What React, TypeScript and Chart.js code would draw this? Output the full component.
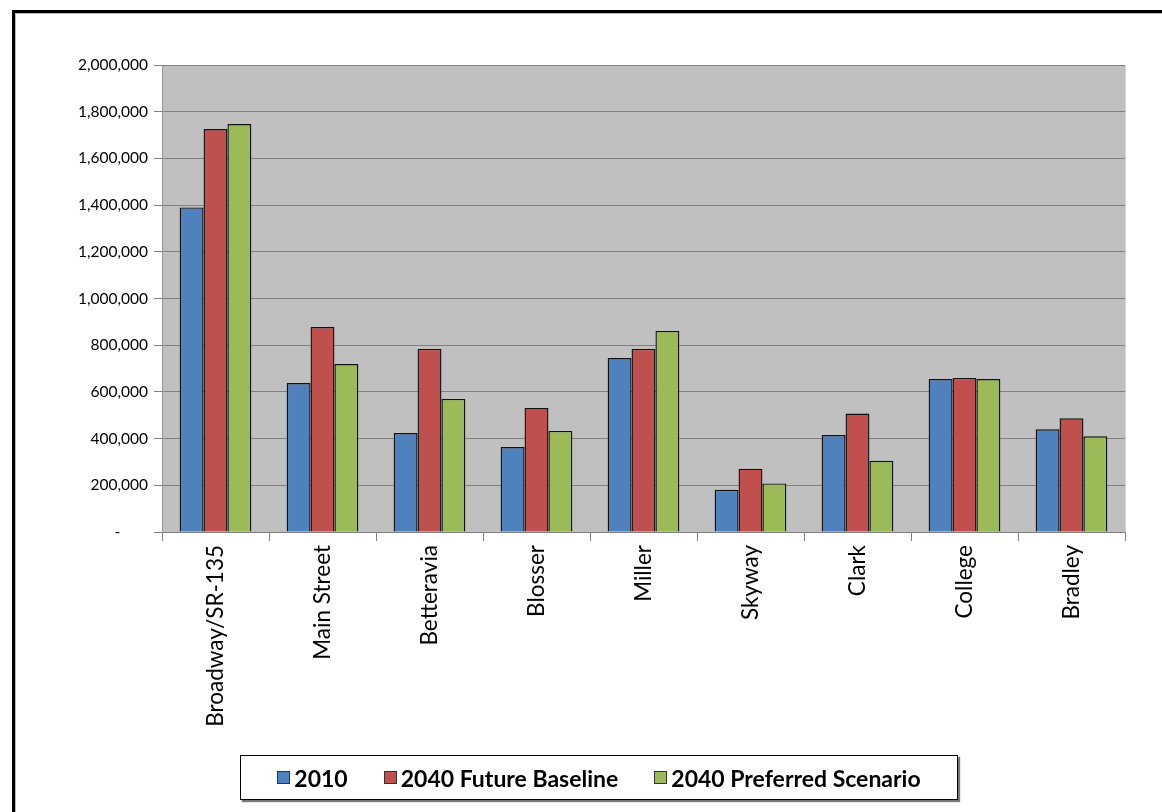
import React, { useEffect, useRef } from "react";
import { Chart, registerables } from "chart.js";

Chart.register(...registerables);

const categories = ["Broadway/SR-135", "Main Street", "Betteravia", "Blosser", "Miller", "Skyway", "Clark", "College", "Bradley"];
const series2010 = [1390000, 638000, 424000, 364000, 745000, 181000, 415000, 655000, 440000];
const series2040Baseline = [1726000, 878000, 784000, 531000, 784000, 271000, 507000, 660000, 487000];
const series2040Preferred = [1747000, 719000, 570000, 433000, 861000, 208000, 305000, 655000, 410000];
const seriesNames = ["2010", "2040 Future Baseline", "2040 Preferred Scenario"];
const seriesColors = ["#4F81BD", "#C0504D", "#9BBB59"];
const yTicks = [0, 200000, 400000, 600000, 800000, 1000000, 1200000, 1400000, 1600000, 1800000, 2000000];

const FONT = "Lato, 'Open Sans', sans-serif";

const plotBg = {
  id: "plotBg",
  beforeDraw(chart: any) {
    const { ctx, chartArea } = chart;
    ctx.save();
    ctx.fillStyle = "#C0C0C0";
    ctx.fillRect(chartArea.left, chartArea.top, chartArea.right - chartArea.left, chartArea.bottom - chartArea.top);
    ctx.restore();
  },
  afterDatasetsDraw(chart: any) {
    const { ctx, chartArea } = chart;
    ctx.save();
    ctx.strokeStyle = "#D4D4D4";
    ctx.lineWidth = 1;
    ctx.beginPath();
    ctx.moveTo(chartArea.right + 0.5, chartArea.top);
    ctx.lineTo(chartArea.right + 0.5, chartArea.bottom);
    ctx.stroke();
    ctx.restore();
  },
};

export default function App() {
  const ref = useRef<HTMLCanvasElement>(null);
  useEffect(() => {
    if (!ref.current) return;
    const datasets = [series2010, series2040Baseline, series2040Preferred].map((d, i) => ({
      label: seriesNames[i],
      data: d,
      backgroundColor: seriesColors[i],
      borderColor: "#111",
      borderWidth: 1.4,
      categoryPercentage: 0.67,
      barPercentage: 1.0,
    }));
    const chart = new Chart(ref.current, {
      type: "bar",
      data: { labels: categories, datasets },
      plugins: [plotBg],
      options: {
        animation: false,
        responsive: false,
        maintainAspectRatio: false,
        layout: { padding: { left: 60, right: 37, top: 65, bottom: 0 } },
        plugins: {
          legend: { display: false },
          tooltip: { enabled: false },
        },
        scales: {
          x: {
            grid: {
              offset: true,
              drawOnChartArea: false,
              drawTicks: true,
              tickLength: 9,
              color: "#808080",
            },
            border: { display: true, color: "#808080", width: 1 },
            ticks: {
              color: "#000",
              font: { family: FONT, size: 22.5 },
              minRotation: 90,
              maxRotation: 90,
              padding: 4,
            },
            afterFit(scale: any) {
              scale.height = 812 - 532;
            },
          },
          y: {
            min: 0,
            max: 2000000,
            afterBuildTicks(scale: any) {
              scale.ticks = yTicks.map((v) => ({ value: v }));
            },
            grid: {
              color: "#808080",
              lineWidth: 1,
              drawTicks: true,
              tickLength: 8,
            },
            border: { display: true, color: "#999999", width: 1 },
            ticks: {
              color: "#000",
              font: { family: FONT, size: 15.5 },
              padding: 6,
              callback: (v: any) => (Number(v) === 0 ? "-       " : Number(v).toLocaleString("en-US")),
            },
            afterFit(scale: any) {
              scale.width = 162 - 60;
            },
          },
        },
      },
    });
    return () => chart.destroy();
  }, []);

  const legendItem = (i: number) => (
    <div key={i} style={{ display: "flex", alignItems: "center", marginRight: i < 2 ? 36 : 0 }}>
      <span
        style={{
          display: "inline-block",
          width: 11,
          height: 11,
          background: seriesColors[i],
          border: "1px solid #333",
          marginRight: 4,
        }}
      />
      <span style={{ fontFamily: FONT, fontWeight: 700, fontSize: 23, color: "#000" }}>{seriesNames[i]}</span>
    </div>
  );

  return (
    <div style={{ position: "fixed", left: 0, top: 0, width: 1162, height: 812, overflow: "hidden", background: "#fff" }}>
      <div
        style={{
          position: "absolute",
          left: 12,
          top: 10,
          width: 1300,
          height: 1000,
          borderTop: "3px solid #000",
          borderLeft: "3px solid #000",
          boxShadow: "inset 1px 1px 0 #bbb",
        }}
      />
      <canvas ref={ref} width={1162} height={812} style={{ position: "absolute", left: 0, top: 0 }} />
      <div
        style={{
          position: "absolute",
          left: 240,
          top: 755,
          width: 716,
          height: 43,
          border: "1px solid #000",
          boxShadow: "2px 2px 1px #777",
          background: "#fff",
          display: "flex",
          alignItems: "center",
          justifyContent: "center",
          boxSizing: "content-box",
        }}
      >
        {[0, 1, 2].map(legendItem)}
      </div>
    </div>
  );
}
